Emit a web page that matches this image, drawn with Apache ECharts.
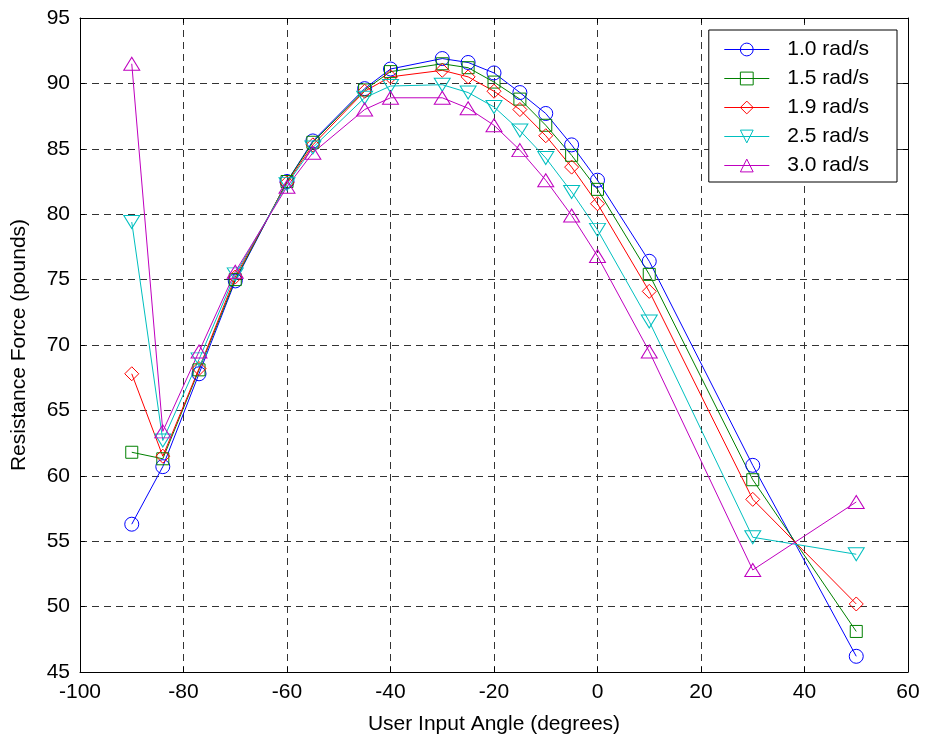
<!DOCTYPE html>
<html>
<head>
<meta charset="utf-8">
<script src="https://cdn.jsdelivr.net/npm/echarts@6/dist/echarts.min.js"></script>
<style>
  html, body { margin: 0; padding: 0; background: #fff }
  #chart { width: 925px; height: 742px }
</style>
</head>
<body>
<div id="chart"></div>
<script>
// user input angles (degrees)
const angles = [-90, -84, -77, -70, -60, -55, -45, -40, -30, -25, -20, -15, -10, -5, 0, 10, 30, 50]

// resistance force (pounds) for each speed
const force10 = [56.3, 60.7, 67.8, 74.9, 82.5, 85.6, 89.6, 91.1, 91.9, 91.6, 90.8, 89.3, 87.7, 85.3, 82.6, 76.4, 60.8, 46.2]
const force15 = [61.8, 61.3, 68.1, 75.0, 82.5, 85.5, 89.5, 90.9, 91.5, 91.2, 90.1, 88.8, 86.8, 84.5, 81.9, 75.4, 59.7, 48.1]
const force19 = [67.8, 61.5, 68.2, 75.2, 82.4, 85.3, 89.4, 90.5, 91.0, 90.5, 89.4, 88.0, 86.0, 83.6, 80.8, 74.1, 58.2, 50.2]
const force25 = [79.4, 62.7, 68.9, 75.4, 82.3, 85.1, 88.9, 89.8, 89.9, 89.3, 88.2, 86.4, 84.3, 81.7, 78.8, 71.8, 55.3, 54.0]
const force30 = [91.5, 63.4, 69.5, 75.6, 82.1, 84.7, 88.0, 88.9, 88.9, 88.1, 86.8, 84.9, 82.6, 79.9, 76.8, 69.5, 52.8, 58.0]

const seriesNames = ['1.0 rad/s', '1.5 rad/s', '1.9 rad/s', '2.5 rad/s', '3.0 rad/s']
const xTicks = [-100, -80, -60, -40, -20, 0, 20, 40, 60]
const yTicks = [45, 50, 55, 60, 65, 70, 75, 80, 85, 90, 95]

const FONT = '"Liberation Sans", Arial, Helvetica, sans-serif'

const styles = [
  { color: '#0000ff', symbol: 'circle', size: 14, rotate: 0 },
  { color: '#008000', symbol: 'rect', size: 12, rotate: 0 },
  { color: '#ff0000', symbol: 'diamond', size: 14, rotate: 0 },
  { color: '#00bfbf', symbol: 'triangle', size: [16, 13], rotate: 180 },
  { color: '#bf00bf', symbol: 'triangle', size: [16, 13], rotate: 0 }
]

function makeSeries(name, values, st) {
  return {
    name: name,
    type: 'line',
    data: angles.map((a, i) => [a, values[i]]),
    symbol: st.symbol,
    symbolSize: st.size,
    symbolRotate: st.rotate,
    showAllSymbol: true,
    lineStyle: { color: st.color, width: 1 },
    itemStyle: { color: 'transparent', borderColor: st.color, borderWidth: 1 },
    emphasis: { disabled: true },
    z: 3
  }
}

const gridLine = { show: true, lineStyle: { color: '#333', width: 1, type: [7, 5] } }
const frameLine = { show: true, onZero: false, lineStyle: { color: '#000', width: 1 } }
const tickStyle = { show: true, inside: true, length: 5, lineStyle: { color: '#000' } }
const labelStyle = { color: '#000', fontSize: 21, fontFamily: FONT }

const chart = echarts.init(document.getElementById('chart'))

chart.setOption({
  animation: false,
  backgroundColor: '#fff',
  grid: { left: 80, right: 17, top: 18, bottom: 70, containLabel: false },
  legend: {
    data: seriesNames,
    orient: 'vertical',
    right: 28,
    top: 30,
    backgroundColor: '#fff',
    borderColor: '#000',
    borderWidth: 1,
    padding: [9, 28, 6, 15],
    itemWidth: 45,
    itemHeight: 16,
    itemGap: 8,
    lineStyle: { width: 1 },
    itemStyle: { borderWidth: 1 },
    textStyle: { color: '#000', fontSize: 21, fontFamily: FONT, lineHeight: 21, padding: [0, 0, 0, 13] }
  },
  xAxis: [
    {
      type: 'value', min: xTicks[0], max: xTicks[xTicks.length - 1], interval: 20,
      name: 'User Input Angle (degrees)', nameLocation: 'middle', nameGap: 42,
      nameTextStyle: { color: '#000', fontSize: 21, fontFamily: FONT },
      axisLine: frameLine, axisTick: tickStyle,
      axisLabel: Object.assign({ margin: 10 }, labelStyle),
      splitLine: gridLine
    },
    {
      type: 'value', position: 'top', min: xTicks[0], max: xTicks[xTicks.length - 1], interval: 20,
      axisLine: frameLine, axisTick: tickStyle, axisLabel: { show: false }, splitLine: { show: false }
    }
  ],
  yAxis: [
    {
      type: 'value', min: yTicks[0], max: yTicks[yTicks.length - 1], interval: 5,
      name: 'Resistance Force (pounds)', nameLocation: 'middle', nameGap: 50,
      nameTextStyle: { color: '#000', fontSize: 21, fontFamily: FONT },
      axisLine: frameLine, axisTick: tickStyle,
      axisLabel: Object.assign({ margin: 10 }, labelStyle),
      splitLine: gridLine
    },
    {
      type: 'value', position: 'right', min: yTicks[0], max: yTicks[yTicks.length - 1], interval: 5,
      axisLine: frameLine, axisTick: tickStyle, axisLabel: { show: false }, splitLine: { show: false }
    }
  ],
  series: [
    makeSeries(seriesNames[0], force10, styles[0]),
    makeSeries(seriesNames[1], force15, styles[1]),
    makeSeries(seriesNames[2], force19, styles[2]),
    makeSeries(seriesNames[3], force25, styles[3]),
    makeSeries(seriesNames[4], force30, styles[4])
  ]
})
</script>
</body>
</html>
